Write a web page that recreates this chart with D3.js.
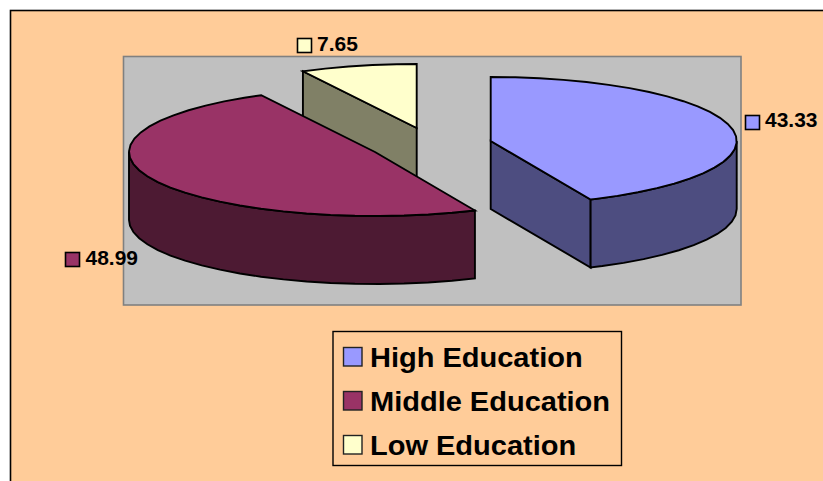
<!DOCTYPE html>
<html>
<head>
<meta charset="utf-8">
<script src="https://cdn.jsdelivr.net/npm/d3@7"></script>
<style>
html,body{margin:0;padding:0;background:#fff;overflow:hidden}
svg{display:block}
text{font-family:"Liberation Sans",Arial,sans-serif;font-weight:bold;fill:#000}
</style>
</head>
<body>
<svg id="c" width="823" height="481"></svg>
<script>
const categories = ["High Education", "Middle Education", "Low Education"];
const values = [43.33, 48.99, 7.65];
const valueLabels = ["43.33", "48.99", "7.65"];
const topColors = ["#9999FF", "#993366", "#FFFFCC"];
const sideColors = ["#4D4D80", "#4D1A33", "#808066"];

const W = 823, H = 481;
const RX = 246, RY = 64, DEPTH = 68;
// exploded slice centres (layout)
const centres = [[490.7, 141], [375, 152], [416.7, 128]];
const labelPos = [[745, 115, 765, 126.7], [65, 252, 85.5, 265], [297, 38, 317, 51]];

const svg = d3.select("#c");
svg.append("rect").attr("x", 0).attr("y", 0).attr("width", W).attr("height", H).attr("fill", "#fff");
svg.append("rect").attr("x", 10.5).attr("y", 10.5).attr("width", W + 20).attr("height", H + 20)
  .attr("fill", "#FFCC99").attr("stroke", "#000").attr("stroke-width", 1.6);
svg.append("rect").attr("x", 123.5).attr("y", 56.5).attr("width", 617.5).attr("height", 248.5)
  .attr("fill", "#C0C0C0").attr("stroke", "#808080").attr("stroke-width", 1.6);

const arcs = d3.pie().sort(null).value(d => d).startAngle(0).endAngle(2 * Math.PI)(values);
const line = d3.line().x(d => d[0]).y(d => d[1]);
const STEP = 0.1;

function samples(a0, a1) {
  const r = d3.range(a0, a1, STEP);
  r.push(a1);
  return r;
}

function drawSlice(i) {
  const a = arcs[i];
  const sx = d3.scaleLinear().domain([-1, 1]).range([centres[i][0] - RX, centres[i][0] + RX]);
  const sy = d3.scaleLinear().domain([-1, 1]).range([centres[i][1] - RY, centres[i][1] + RY]);
  const pt = (t, dz = 0) => [sx(Math.sin(t)), sy(-Math.cos(t)) + dz];
  const c = [sx(0), sy(0)];
  const g = svg.append("g").attr("stroke", "#000").attr("stroke-width", 1.9).attr("stroke-linejoin", "miter");

  // radial walls turned towards the viewer
  const radial = t => {
    const p = pt(t);
    g.append("path")
      .attr("d", line([c, p, [p[0], p[1] + DEPTH], [c[0], c[1] + DEPTH]]) + "Z")
      .attr("fill", sideColors[i]);
  };
  if (i === 0) radial(a.endAngle);
  if (i === 2) radial(a.startAngle);

  // outer curved wall, on the front half of the ellipse
  const w0 = Math.max(a.startAngle, Math.PI / 2), w1 = Math.min(a.endAngle, 3 * Math.PI / 2);
  if (w1 > w0) {
    const s = samples(w0, w1);
    const pts = s.map(t => pt(t)).concat(s.slice().reverse().map(t => pt(t, DEPTH)));
    g.append("path").attr("d", line(pts) + "Z").attr("fill", sideColors[i]);
  }

  // top face
  const topPts = [c].concat(samples(a.startAngle, a.endAngle).map(t => pt(t)));
  g.append("path").attr("d", line(topPts) + "Z").attr("fill", topColors[i]);
}
[2, 1, 0].forEach(drawSlice);

// value labels
values.forEach((v, i) => {
  const p = labelPos[i];
  svg.append("rect").attr("x", p[0] + 0.5).attr("y", p[1] + 0.5).attr("width", 14).attr("height", 14)
    .attr("fill", topColors[i]).attr("stroke", "#000").attr("stroke-width", 1.6);
  svg.append("text").attr("transform", `translate(${p[2]},${p[3]}) scale(1.05,1)`)
    .attr("font-size", 20).text(valueLabels[i]);
});

// legend
svg.append("rect").attr("x", 333).attr("y", 331.5).attr("width", 288.5).attr("height", 134)
  .attr("fill", "none").attr("stroke", "#000").attr("stroke-width", 1.4);
const ly = d3.scalePoint().domain(categories).range([347.5, 435.5]);
categories.forEach((name, i) => {
  svg.append("rect").attr("x", 343.5).attr("y", ly(name)).attr("width", 18.5).attr("height", 18.5)
    .attr("fill", topColors[i]).attr("stroke", "#222").attr("stroke-width", 1.4);
  svg.append("text").attr("transform", `translate(370,${ly(name) + 19}) scale(1.055,1)`)
    .attr("font-size", 27.5).text(name);
});
</script>
</body>
</html>
